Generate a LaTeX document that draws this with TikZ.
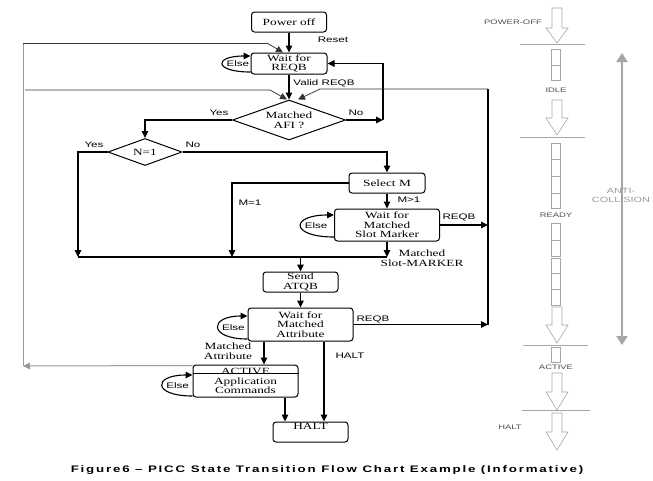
\documentclass[tikz,border=0pt]{standalone}
\usepackage{fontspec}
\setmainfont{Liberation Serif}[FakeStretch=1.4]
\newfontfamily\sans{Liberation Sans}[FakeStretch=1.45]
\newfontfamily\capfont{Liberation Sans}[FakeStretch=1.4,LetterSpace=19]
\usetikzlibrary{shapes.geometric,arrows.meta,positioning}
\begin{document}
\begin{tikzpicture}
  [x=1pt,y=-1pt,>={Triangle[length=7pt,width=6.5pt]},
   box/.style={draw,rounded corners=3pt,line width=1pt,align=center,inner sep=0pt,
     font=\fontsize{9.5}{9.5}\selectfont},
   cond/.style={draw,diamond,line width=1pt,align=center,inner sep=0pt,
     font=\fontsize{9.5}{10}\selectfont},
   lbl/.style={font=\sans\fontsize{8}{9}\selectfont},
   note/.style={align=center,font=\fontsize{9.5}{9.5}\selectfont},
   flow/.style={line width=1.1pt},
   fine/.style={draw=black!80,line width=0.75pt},
   back/.style={draw=black!40,line width=1pt},
   pale/.style={draw=black!35,line width=0.6pt},
   side/.style={font=\sans\fontsize{6.5}{7}\selectfont,text=black!70}]
  \useasboundingbox (0,0) rectangle (653,480);

  % states
  \node[box,minimum width=75pt,minimum height=20pt] (off) at (289,22) {Power off};
  \node[box,minimum width=76pt,minimum height=21pt] (reqb) [below of=off,node distance=41.5pt] {Wait for\\REQB};
  \node[cond,aspect=2.8,minimum width=113pt,minimum height=40pt] (afi) [below of=reqb,node distance=56.5pt] {Matched\\AFI ?};
  \node[cond,aspect=2.7,minimum width=74pt,minimum height=27pt] (n1) at (145,152) {N=1};
  \node[box,minimum width=76pt,minimum height=20pt] (selm) at (387,183) {Select M};
  \node[box,minimum width=105pt,minimum height=32pt] (slot) [below of=selm,node distance=42pt] {Wait for\\Matched\\Slot Marker};
  \node[box,minimum width=75pt,minimum height=20pt] (atqb) at (300.5,282) {Send\\ATQB};
  \node[box,minimum width=105pt,minimum height=33pt] (attr) [below of=atqb,node distance=42.5pt] {Wait for\\Matched\\Attribute};
  \node[box,minimum width=105pt,minimum height=32pt] (active) at (245.5,381) {ACTIVE\\Application\\Commands};
  \node[box,minimum width=75pt,minimum height=20pt,text height=7pt,text depth=12pt] (halt) at (310.5,432) {HALT};
  \draw ([yshift=-9pt]active.north west) -- ([yshift=-9pt]active.north east);

  % junctions
  \coordinate (noj) at (383,120);
  \coordinate (m1) at (78,257);
  \coordinate (m2) at (232,257);
  \coordinate (m3) at (387,257);
  \coordinate (rt) at (488,89);
  \coordinate (rb) at (488,324.5);
  \coordinate (rk) at (320,89);
  \coordinate (l0) at (25,90);
  \coordinate (lk) at (270,90);
  \coordinate (g0) at (23,366);
  \coordinate (g1) at (23,43);
  \coordinate (g2) at (267,43);

  % transitions
  \draw[flow,->] (off) -- (reqb);
  \draw[flow,->] (reqb) -- (afi);
  \draw[flow,->] (afi.east) -- (noj);
  \draw[flow,->] (noj) |- (reqb.east);
  \draw[flow,->] (afi.west) -| (n1.north);
  \draw[flow,->] (n1.west) -| (m1);
  \draw[flow,->] (n1.east) -| (selm.north);
  \draw[flow,->] (selm.west) -| (m2);
  \draw[flow,->] (selm) -- (slot);
  \draw[flow,->] (slot) -- (m3);
  \draw[flow] (m1) -- (m3);
  \draw[flow,->] (slot.east) -- (slot.east -| rb);
  \draw[flow,->] (atqb |- m1) -- (atqb);
  \draw[flow,->] (atqb) -- (attr);
  \draw[flow,->] (attr.east) -- (rb);
  \draw[flow] (rb) -- (rt);
  \draw[fine,->] (rt) -- (rk) -- ([xshift=9pt]afi.north);
  \draw[fine,->] (l0) -- (lk) -- ([xshift=-2pt]afi.north);
  \draw[back,->] ([yshift=-1pt]active.north west) -- (g0);
  \draw[back] (g0) -- (g1);
  \draw[fine] (g1) -- (g2);
  \draw[fine,->] (g2) -- ([xshift=-6pt]reqb.north);
  \draw[flow,->] (264,0 |- attr.south) -- (264,0 |- active.north);
  \draw[flow,->] (324,0 |- attr.south) -- (324,0 |- halt.north);
  \draw[flow,->] (285,0 |- active.south) -- (285,0 |- halt.north);
  \foreach \n/\a/\b/\c in {reqb/7.5/8.5/37,slot/10/12/44,attr/8.5/14.5/39,active/6/15/40}
    \draw[flow,->] ([yshift=-\b pt]\n.west) .. controls +(-\c,0) and +(-\c,0) .. ([yshift=\a pt]\n.west)
      node[lbl,pos=0.5,right] (e\n) {Else};

  % labels
  \node[lbl] (lreset) at (333,40) {Reset};
  \node[lbl] (lvalid) at (324,83) {Valid REQB};
  \node[lbl] (lno1) at (356,113) {No};
  \node[lbl] (lyes1) at (219,113) {Yes};
  \node[lbl] (lyes2) at (94,145) {Yes};
  \node[lbl] (lno2) at (193,145) {No};
  \node[lbl] (lm1) at (250,203) {M=1};
  \node[lbl] (lm2) at (409,200) {M>1};
  \node[lbl] (lreqb1) at (459,217) {REQB};
  \node[note] (lslot) at (422,258) {Matched\\Slot-MARKER};
  \node[lbl] (lreqb2) at (373,319) {REQB};
  \node[note] (lattr) at (228,351) {Matched\\Attribute};
  \node[lbl] (lhalt) at (350,356) {HALT};

  % state column
  \foreach \t/\h/\e in {8/28/43,100/118/135,307/325/343,373/392/410,413/432/450}
    \draw[pale] (552,\t) -- (562,\t) -- (562,\h) -- (568,\h) -- (557,\e) -- (546,\h) -- (552,\h) -- cycle;
  \foreach \y/\a/\b in {44/520/585,137/520/585,345/523/588,410/522/590}
    \draw[pale] (\a,\y) -- (\b,\y);
  \foreach \t/\b in {49/65,65/80,143/159,159/176,176/193,193/208,223/240,240/256,258/273,273/289,289/305,347/362}
    \draw[pale] (551,\t) rectangle (560,\b);
  \node[side] (poff) at (513,22) {POWER-OFF};
  \node[side] (idle) at (556,90) {IDLE};
  \node[side] (ready) at (556,215) {READY};
  \node[side] (act) at (556,367) {ACTIVE};
  \node[side] (hlt) at (510,427) {HALT};
  \coordinate (at) at (622,53);
  \coordinate (ab) at (622,345);
  \draw[draw=black!35,line width=2pt,{Triangle[length=9pt,width=11pt]}-{Triangle[length=9pt,width=11pt]}] (at) -- (ab);
  \node[side,text=black!40,align=center,font=\sans\fontsize{7.5}{9}\selectfont] (anti) at (621,195) {ANTI-\\COLLISION};

  \node[font=\capfont\bfseries\fontsize{9.5}{10}\selectfont] (cap) at (327,470) {Figure6 – PICC State Transition Flow Chart Example (Informative)};
\end{tikzpicture}
\end{document}
